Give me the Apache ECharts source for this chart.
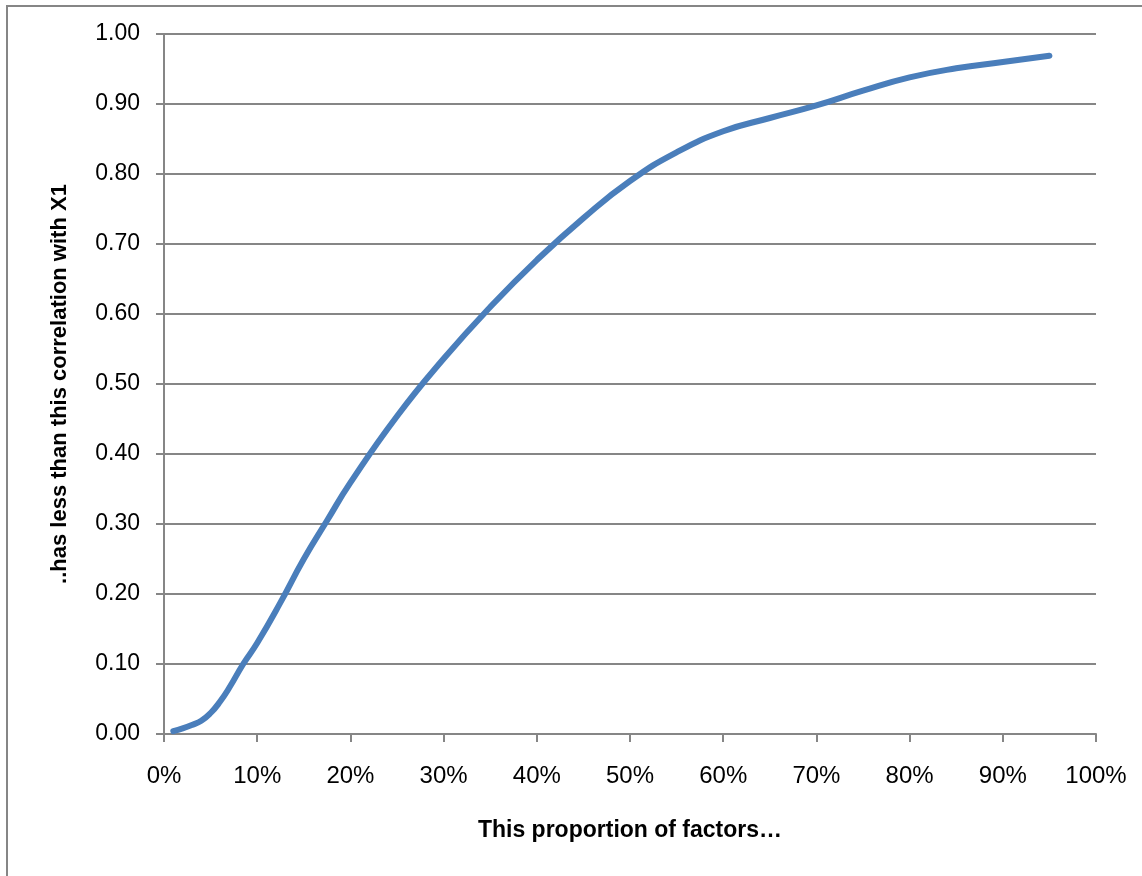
<!DOCTYPE html>
<html>
<head>
<meta charset="utf-8">
<script src="https://cdn.jsdelivr.net/npm/echarts@6/dist/echarts.min.js"></script>
<style>html,body{margin:0;padding:0;background:#fff;}#c{width:1142px;height:876px;}</style>
</head>
<body>
<div id="c"></div>
<script>
const xValues = [1, 2, 3, 4, 5, 6, 7, 8.5, 10, 12.5, 15, 17.5, 20, 25, 30, 35, 40, 45, 50, 55, 60, 65, 70, 75, 80, 85, 90, 95];
const yValues = [0.004, 0.008, 0.013, 0.019, 0.030, 0.046, 0.066, 0.100, 0.13, 0.188, 0.25, 0.305, 0.359, 0.454, 0.536, 0.61, 0.677, 0.737, 0.79, 0.831, 0.861, 0.880, 0.898, 0.919, 0.938, 0.951, 0.960, 0.969];
const xTitle = 'This proportion of factors…';
const yTitle = '..has less than this correlation with X1';

const chart = echarts.init(document.getElementById('c'), null, {renderer: 'canvas'});
const gray = '#868686';
chart.setOption({
  animation: false,
  backgroundColor: '#fff',
  graphic: [{
    type: 'rect', silent: true,
    shape: {x: 7, y: 6, width: 2000, height: 2000},
    style: {fill: 'none', stroke: gray, lineWidth: 2}
  }],
  grid: {left: 164, top: 34, width: 932, height: 700, containLabel: false},
  xAxis: {
    type: 'value', min: 0, max: 100, interval: 10,
    name: xTitle, nameLocation: 'middle', nameGap: 85,
    nameTextStyle: {fontFamily: '"Liberation Sans", Arial, sans-serif', fontWeight: 'bold', fontSize: 23, color: '#000'},
    axisLine: {lineStyle: {color: gray, width: 2}},
    axisTick: {show: true, length: 8, lineStyle: {color: gray, width: 2}},
    axisLabel: {formatter: '{value}%', margin: 30, fontFamily: '"Liberation Sans", Arial, sans-serif', fontSize: 24, color: '#000'},
    splitLine: {show: false}
  },
  yAxis: {
    type: 'value', min: 0, max: 1, interval: 0.1,
    name: yTitle, nameLocation: 'middle', nameGap: 93, nameRotate: 90,
    nameTextStyle: {fontFamily: '"Liberation Sans", Arial, sans-serif', fontWeight: 'bold', fontSize: 22, color: '#000'},
    axisLine: {show: true, lineStyle: {color: gray, width: 2}},
    axisTick: {show: true, length: 8, lineStyle: {color: gray, width: 2}},
    axisLabel: {formatter: v => v.toFixed(2), margin: 24, fontFamily: '"Liberation Sans", Arial, sans-serif', fontSize: 23, color: '#000'},
    splitLine: {show: true, lineStyle: {color: gray, width: 2}}
  },
  series: [{
    type: 'line',
    data: xValues.map((x, i) => [x, yValues[i]]),
    smooth: 0.5,
    showSymbol: false,
    lineStyle: {color: '#4a7ebb', width: 6, cap: 'round', join: 'round'}
  }]
});
</script>
</body>
</html>
